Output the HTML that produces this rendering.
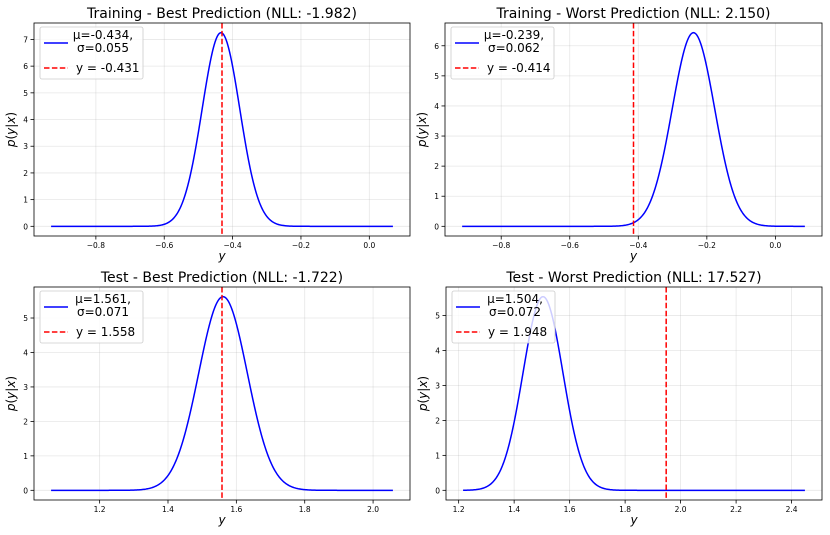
<!DOCTYPE html>
<html><head><meta charset="utf-8">
<style>
html,body{margin:0;padding:0;background:#fff;}
svg{display:block;font-family:"DejaVu Sans","Liberation Sans",sans-serif;}
</style></head>
<body>
<svg id="fig" width="830" height="535" viewBox="0 0 830 535" xmlns="http://www.w3.org/2000/svg"></svg>
<script>
// ---- data ----
const panelTitles = ["Training - Best Prediction (NLL: -1.982)","Training - Worst Prediction (NLL: 2.150)","Test - Best Prediction (NLL: -1.722)","Test - Worst Prediction (NLL: 17.527)"];
const muValues = [-0.434, -0.239, 1.561, 1.504];
const sigmaValues = [0.055, 0.062, 0.071, 0.072];
const trueY = [-0.431, -0.414, 1.558, 1.948];
const muLabels = ["μ=-0.434,","μ=-0.239,","μ=1.561,","μ=1.504,"];
const sigmaLabels = ["σ=0.055","σ=0.062","σ=0.071","σ=0.072"];
const yLabels = ["y = -0.431","y = -0.414","y = 1.558","y = 1.948"];
const xStart = [-0.931, -0.914, 1.058, 1.216];
const xEnd = [0.069, 0.086, 2.058, 2.448];
const xTicks0 = [-0.8,-0.6,-0.4,-0.2,0.0];
const xTicks1 = [-0.8,-0.6,-0.4,-0.2,0.0];
const xTicks2 = [1.2,1.4,1.6,1.8,2.0];
const xTicks3 = [1.2,1.4,1.6,1.8,2.0,2.2,2.4];
const xTickLabels0 = ["−0.8","−0.6","−0.4","−0.2","0.0"];
const xTickLabels1 = ["−0.8","−0.6","−0.4","−0.2","0.0"];
const xTickLabels2 = ["1.2","1.4","1.6","1.8","2.0"];
const xTickLabels3 = ["1.2","1.4","1.6","1.8","2.0","2.2","2.4"];
const yTicks0 = [0,1,2,3,4,5,6,7];
const yTicks1 = [0,1,2,3,4,5,6];
const yTicks2 = [0,1,2,3,4,5];
const yTicks3 = [0,1,2,3,4,5];

const xTicksAll=[xTicks0,xTicks1,xTicks2,xTicks3];
const xTickLabelsAll=[xTickLabels0,xTickLabels1,xTickLabels2,xTickLabels3];
const yTicksAll=[yTicks0,yTicks1,yTicks2,yTicks3];
const boxes=[[34,23,410,236],[445,23,822,236],[34,287,410,500],[446,287,822,500]];
const NS="http://www.w3.org/2000/svg";
const fig=document.getElementById('fig');
function mk(tag,attrs,parent){const e=document.createElementNS(NS,tag);for(const k in attrs)e.setAttribute(k,attrs[k]);(parent||fig).appendChild(e);return e;}
function pdf(x,m,s){return Math.exp(-0.5*((x-m)/s)**2)/(s*Math.sqrt(2*Math.PI));}

for(let p=0;p<4;p++){
  const [L,T,R,B]=boxes[p];
  const g=mk('g',{});
  
  
  const x0=xStart[p],x1=xEnd[p],pad=(x1-x0)*0.05;
  const xmin=x0-pad,xmax=x1+pad;
  const peak=pdf(muValues[p],muValues[p],sigmaValues[p]);
  const ymin=-peak*0.05,ymax=peak*1.05;
  const X=v=>L+(v-xmin)/(xmax-xmin)*(R-L);
  const Y=v=>B-(v-ymin)/(ymax-ymin)*(B-T);
  xTicksAll[p].forEach((t,i)=>{
    const gl=mk('line',{x1:X(t),x2:X(t),y1:T,y2:B,stroke:'#b0b0b0','stroke-opacity':0.3,'stroke-width':0.8},g);
    
    
    mk('line',{x1:X(t),x2:X(t),y1:B,y2:B+3.5,stroke:'#000','stroke-width':0.8},g);
    const tl=mk('text',{x:X(t),y:B+12,'font-size':7.5,'text-anchor':'middle',fill:'#000'},g);
    tl.textContent=xTickLabelsAll[p][i];
    
    
  });
  yTicksAll[p].forEach(t=>{
    const gl=mk('line',{x1:L,x2:R,y1:Y(t),y2:Y(t),stroke:'#b0b0b0','stroke-opacity':0.3,'stroke-width':0.8},g);
    
    
    mk('line',{x1:L-3.5,x2:L,y1:Y(t),y2:Y(t),stroke:'#000','stroke-width':0.8},g);
    const tl=mk('text',{x:L-6,y:Y(t)+3,'font-size':7.5,'text-anchor':'end',fill:'#000'},g);
    tl.textContent=String(t);
    
    
  });
  let d='';const N=400;
  for(let i=0;i<=N;i++){const xv=x0+(x1-x0)*i/N;d+=(i?'L':'M')+X(xv).toFixed(2)+' '+Y(pdf(xv,muValues[p],sigmaValues[p])).toFixed(2);}
  const c=mk('path',{d:d,fill:'none',stroke:'#0000ff','stroke-width':1.5},g);
  
  
  const vl=mk('line',{x1:X(trueY[p]),x2:X(trueY[p]),y1:T,y2:B,stroke:'#ff0000','stroke-width':1.5,'stroke-dasharray':'5.5 2.4'},g);
  
  
  const fr=mk('rect',{x:L,y:T,width:R-L,height:B-T,fill:'none',stroke:'#000','stroke-width':0.8},g);
  
  
  const ti=mk('text',{x:(L+R)/2,y:T-5,'font-size':14,'text-anchor':'middle',fill:'#000'},g);
  ti.textContent=panelTitles[p];
  
  
  const xl=mk('text',{x:(L+R)/2,y:B+24,'font-size':12,'font-style':'italic','text-anchor':'middle',fill:'#000'},g);
  xl.textContent='y';
  
  
  const yl=mk('text',{x:0,y:0,'font-size':12,'text-anchor':'middle',fill:'#000',transform:`translate(${L-19},${(T+B)/2}) rotate(-90)`},g);
  yl.innerHTML='<tspan font-style="italic">p</tspan>(<tspan font-style="italic">y</tspan>|<tspan font-style="italic">x</tspan>)';
  
  
  const lg=mk('g',{},g);
  
  
  const lx=L+6,ly=T+4;
  mk('rect',{x:lx,y:ly,width:103,height:52,rx:2,fill:'#fff','fill-opacity':0.8,stroke:'#cccccc','stroke-width':0.8},lg);
  mk('line',{x1:lx+4,x2:lx+28,y1:ly+16,y2:ly+16,stroke:'#0000ff','stroke-width':1.5},lg);
  const t1=mk('text',{x:lx+63,y:ly+12,'font-size':12,'text-anchor':'middle',fill:'#000'},lg);t1.textContent=muLabels[p];
  
  
  const t2=mk('text',{x:lx+63,y:ly+25,'font-size':12,'text-anchor':'middle',fill:'#000'},lg);t2.textContent=sigmaLabels[p];
  
  
  mk('line',{x1:lx+4,x2:lx+28,y1:ly+41,y2:ly+41,stroke:'#ff0000','stroke-width':1.5,'stroke-dasharray':'5.5 2.4'},lg);
  const t3=mk('text',{x:lx+36,y:ly+45,'font-size':12,fill:'#000'},lg);t3.textContent=yLabels[p];
  
  
}
</script>
</body></html>
